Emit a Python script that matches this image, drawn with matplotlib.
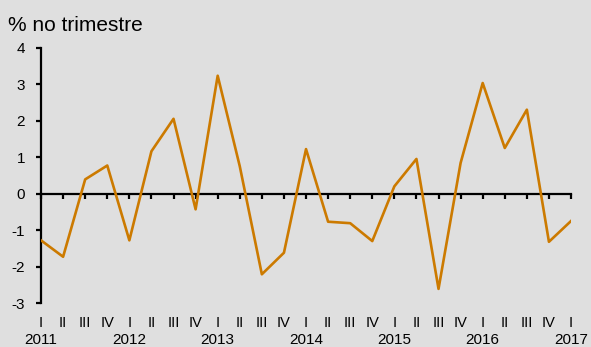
import matplotlib.pyplot as plt
import matplotlib.transforms as mtransforms

plt.rcParams['font.family'] = ['Liberation Sans', 'DejaVu Sans']
plt.rcParams['axes.unicode_minus'] = False

years = ['2011', '2012', '2013', '2014', '2015', '2016', '2017']
quarters = ['I', 'II', 'III', 'IV']
# quarter-on-quarter change, 2011 Q1 .. 2017 Q1
values = [-1.27, -1.72, 0.40, 0.78, -1.27, 1.17, 2.06, -0.42, 3.24, 0.76,
          -2.20, -1.61, 1.23, -0.76, -0.80, -1.29, 0.21, 0.96, -2.60, 0.85,
          3.04, 1.26, 2.31, -1.31, -0.74]

bg = '#dfdfdf'
line_color = '#cc7a00'

fig = plt.figure(figsize=(5.91, 3.47), dpi=100, facecolor=bg)
ax = fig.add_axes([0.0694, 0.1254, 0.8968, 0.7363])
ax.set_facecolor(bg)

x = list(range(len(values)))
ax.plot(x, values, color=line_color, lw=1.9, zorder=3)

ax.set_xlim(0, len(values) - 1)
ax.set_ylim(-3, 4)
ax.set_yticks(range(-3, 5))

for side in ('top', 'right'):
    ax.spines[side].set_visible(False)
ax.spines['left'].set_linewidth(1.6)
ax.spines['bottom'].set_position(('data', 0))
ax.spines['bottom'].set_linewidth(1.6)

ax.set_xticks(x)
ax.tick_params(axis='x', direction='out', length=3.5, width=1.6,
               labelbottom=False)
ax.tick_params(axis='y', direction='out', length=3.5, width=1.6,
               labelsize=11, pad=8)

# quarter and year labels under the plot area
trans = mtransforms.blended_transform_factory(ax.transData, ax.transAxes)
for i in x:
    ax.text(i, -0.076, quarters[i % 4], transform=trans, ha='center',
            va='center', fontsize=10.5)
    if i % 4 == 0:
        ax.text(i, -0.143, years[i // 4], transform=trans, ha='center',
                va='center', fontsize=11)

fig.text(8 / 591, 1 - 31 / 347, '% no trimestre', fontsize=15,
         ha='left', va='baseline')

fig.savefig('out.png', dpi=100, facecolor=bg)
